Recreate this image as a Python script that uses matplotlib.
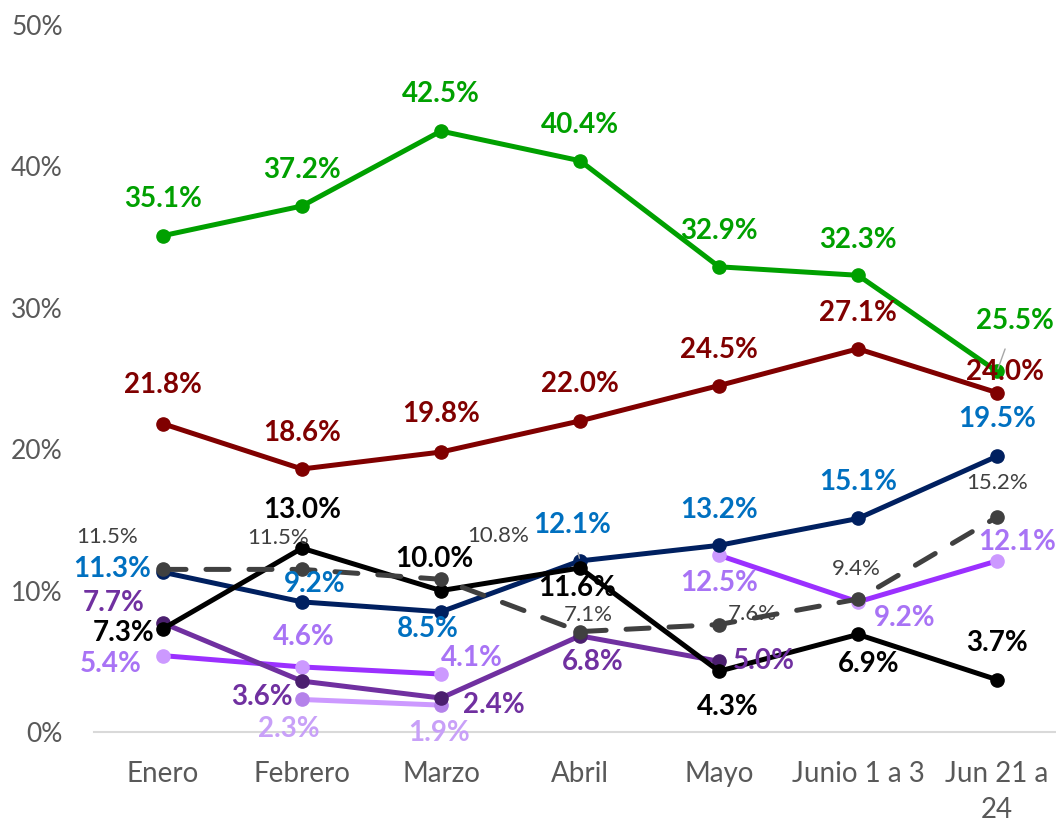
"""Evolución mensual por series: líneas con etiquetas de porcentaje."""
import numpy as np
import matplotlib
matplotlib.use("Agg")
import matplotlib.pyplot as plt

OUT = "out.png"

MESES = ["Enero", "Febrero", "Marzo", "Abril", "Mayo", "Junio 1 a 3", "Jun 21 a\n24"]

VERDE = [35.1, 37.2, 42.5, 40.4, 32.9, 32.3, 25.5]
GUINDA = [21.8, 18.6, 19.8, 22.0, 24.5, 27.1, 24.0]
MARINO = [11.3, 9.2, 8.5, 12.1, 13.2, 15.1, 19.5]
NEGRO = [7.3, 13.0, 10.0, 11.6, 4.3, 6.9, 3.7]
GRIS = [11.5, 11.5, 10.8, 7.1, 7.6, 9.4, 15.2]
MORADO = [7.7, 3.6, 2.4, 6.8, 5.0]
VIOLETA = [5.4, 4.6, 4.1, np.nan, 12.5, 9.2, 12.1]
LILA = [2.3, 1.9]
LILA_X = [1, 2]

# décalages des étiquettes en pixels (dx, dy), dy vers le haut
OFF_VERDE = [(0, 37), (0, 36), (0, 37), (0, 36), (0, 36), (0, 35), (18, 50)]
OFF_GUINDA = [(0, 39), (0, 36), (0, 38), (0, 37), (0, 36), (0, 36), (8, 21)]
OFF_MARINO = [(-51, 3), (13, 18), (-13, -17), (-8, 36), (0, 35), (0, 36), (0, 37)]
OFF_NEGRO = [(-39, -4), (0, 38), (-7, 32), (-3, -20), (9, -36), (11, -30), (0, 37)]
OFF_GRIS = [(-56, 32), (-24, 31), (57, 43), (8, 17), (33, 11), (-2, 30), (0, 34)]
OFF_MORADO = [(-49, 20), (-40, -16), (53, -7), (13, -26), (45, 0)]
OFF_VIOLETA = [(-52, -8), (2, 30), (31, 16), None, (0, -28), (47, -16), (20, 19)]
OFF_LILA = [(-13, -30), (-2, -28)]

plt.rcParams["font.family"] = ["Lato", "DejaVu Sans"]

fig = plt.figure(figsize=(10.56, 8.21), dpi=100)
ax = fig.add_axes([93.5 / 1056, 89 / 821, 962.5 / 1056, 707 / 821])

LW = 3.6
MS = 9.5


def serie(x, y, linea, marca, etiqueta, offs, size=20, weight="bold", leader=(), **kw):
    ax.plot(x, y, color=linea, lw=LW, marker="o", ms=MS, mfc=marca, mec=marca,
            solid_capstyle="round", **kw)
    for i, (xi, v) in enumerate(zip(x, y)):
        if offs[i] is None or np.isnan(v):
            continue
        dx, dy = offs[i]
        props = None
        if i in leader:
            props = dict(arrowstyle="-", color="#a6a6a6", lw=1.0, shrinkA=9, shrinkB=2)
        ax.annotate(f"{v:.1f}%", xy=(xi, v), xytext=(dx, dy), textcoords="offset pixels",
                    ha="center", va="center", fontsize=size, weight=weight,
                    color=etiqueta, arrowprops=props, zorder=10)


X = np.arange(len(MESES))
serie(LILA_X, LILA, "#cc99ff", "#b482ea", "#c8a0f8", OFF_LILA, zorder=2)
serie(X, VIOLETA, "#9b30ff", "#cc99ff", "#a873f5", OFF_VIOLETA, zorder=3)
serie(X[:5], MORADO, "#7030a0", "#4b1f6f", "#7030a0", OFF_MORADO, zorder=3)
serie(X, MARINO, "#002060", "#002060", "#0070c0", OFF_MARINO, leader=(3,), zorder=4)
serie(X, NEGRO, "#000000", "#000000", "#000000", OFF_NEGRO, zorder=5)
serie(X, GRIS, "#404040", "#404040", "#404040", OFF_GRIS, size=16, weight="normal",
      ls=(0, (4.6, 4.0)), dash_capstyle="round", zorder=6)
serie(X, GUINDA, "#800000", "#800000", "#800000", OFF_GUINDA, zorder=7)
serie(X, VERDE, "#00a000", "#00a000", "#00a000", OFF_VERDE, leader=(6,), zorder=8)

ax.set_xlim(-0.5, -0.5 + 962.5 / 139)
ax.set_ylim(0, 50)
ax.set_yticks(range(0, 51, 10))
ax.set_yticklabels([f"{t}%" for t in range(0, 51, 10)])
ax.set_xticks(X)
ax.set_xticklabels(MESES, linespacing=1.45)
ax.tick_params(axis="y", length=0, pad=22, labelsize=19, labelcolor="#595959")
ax.tick_params(axis="x", length=0, pad=21, labelsize=20, labelcolor="#595959")
for lado in ("top", "right", "left"):
    ax.spines[lado].set_visible(False)
ax.spines["bottom"].set_color("#d9d9d9")
ax.spines["bottom"].set_linewidth(1.5)

fig.savefig(OUT, dpi=100)
